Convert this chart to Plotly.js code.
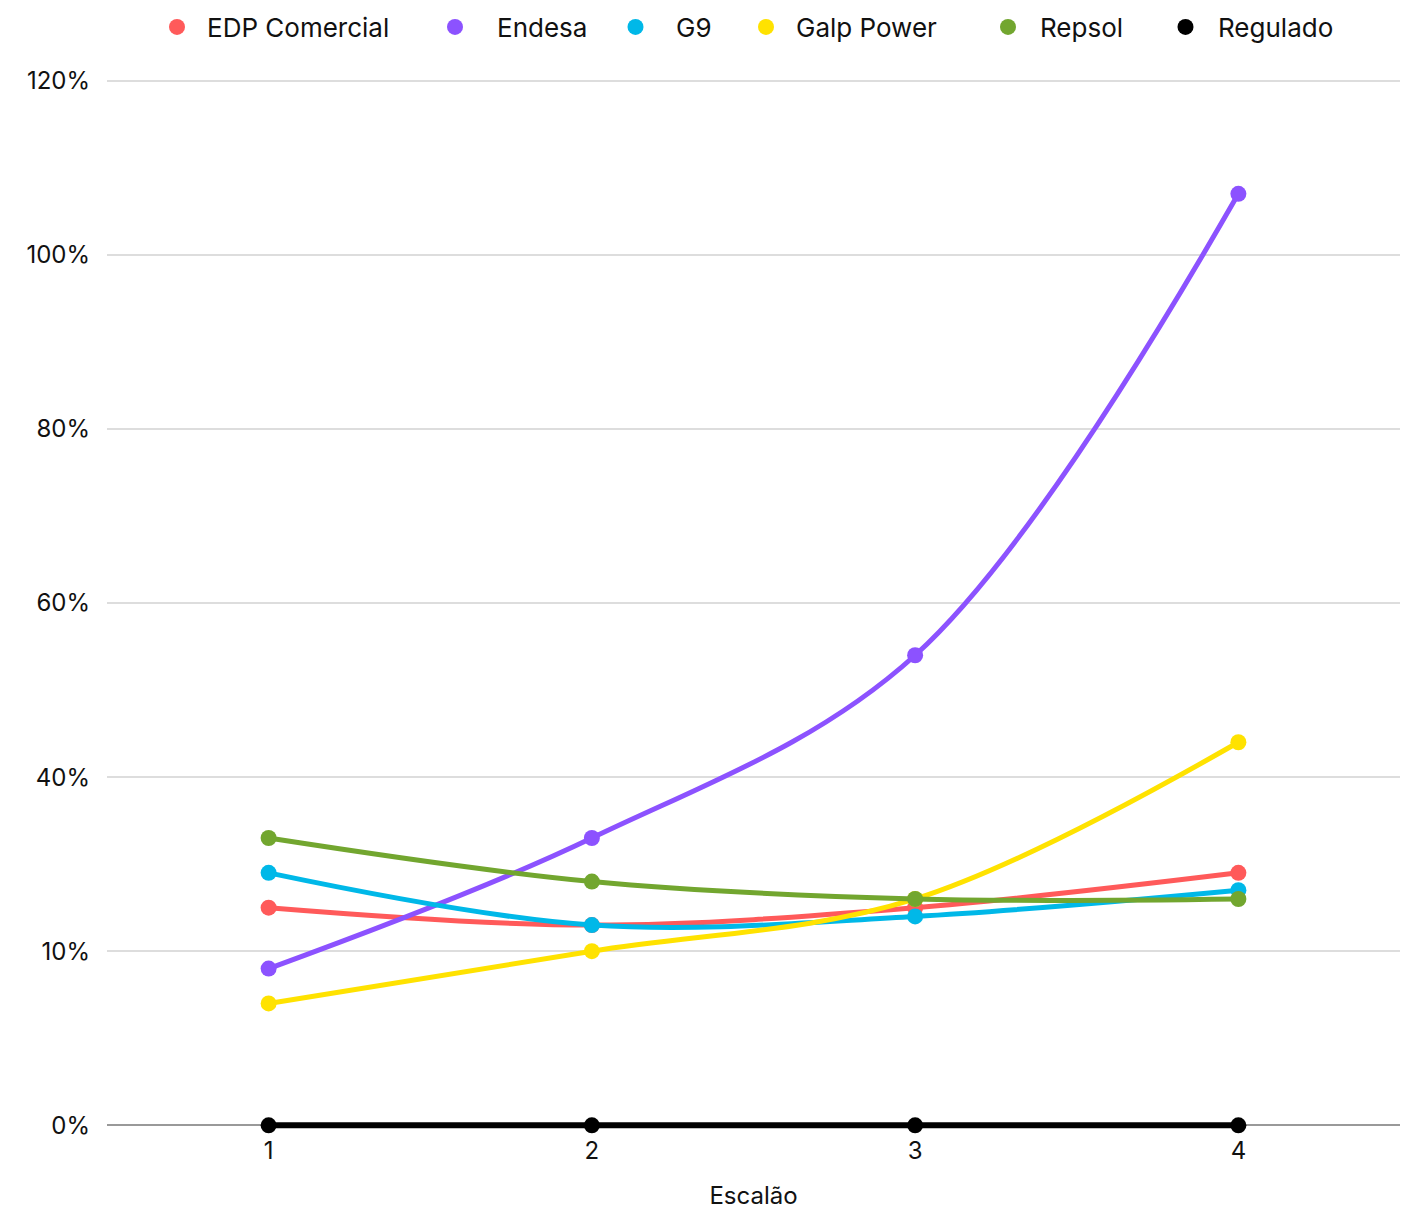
<!DOCTYPE html>
<html>
<head>
<meta charset="utf-8">
<script src="https://cdn.plot.ly/plotly-3.0.1.min.js"></script>
<style>html,body{margin:0;padding:0;background:#fff;}#chart{width:1411px;height:1210px;}</style>
</head>
<body>
<div id="chart"></div>
<script>
const escaloes = [1, 2, 3, 4];
const edpComercial = [25, 23, 25, 29];
const endesa = [18, 33, 54, 107];
const g9 = [29, 23, 24, 27];
const galpPower = [14, 20, 26, 44];
const repsol = [33, 28, 26, 26];
const regulado = [0, 0, 0, 0];

const seriesNames = ['EDP Comercial', 'Endesa', 'G9', 'Galp Power', 'Repsol', 'Regulado'];
const seriesValues = [edpComercial, endesa, g9, galpPower, repsol, regulado];
const seriesColors = ['#FF5A5A', '#8C52FF', '#00B8E8', '#FFE200', '#72A62F', '#000000'];
const legendX = [147, 413, 595, 736, 976, 1153];
const legendItemWidth = [50, 74, 71, 50, 54, 55];

const yTickVals = [0, 20, 40, 60, 80, 100, 120];
const yTickText = ['0%', '10%', '40%', '60%', '80%', '100%', '120%'];

const font = {family: 'Inter, "Noto Sans", sans-serif', size: 24, color: '#111'};

const traces = [];
const layout = {
  width: 1411, height: 1210,
  margin: {l: 107, r: 11, t: 72, b: 76, autoexpand: false},
  paper_bgcolor: '#fff', plot_bgcolor: '#fff',
  font: font,
  showlegend: true,
  xaxis: {
    range: [0.5, 4.5], tickvals: escaloes, ticktext: escaloes.map(String),
    showgrid: false, zeroline: false, showline: false, ticks: '',
    ticklabelstandoff: 0,
    tickfont: {size: 24, color: '#111'},
    title: {text: 'Escalão', font: {size: 24, color: '#111'}, standoff: 28}
  },
  yaxis: {
    range: [-1, 121], tickvals: yTickVals, ticktext: yTickText,
    showgrid: true, gridcolor: '#dddddd', gridwidth: 2,
    zeroline: true, zerolinecolor: '#999999', zerolinewidth: 2,
    showline: false, ticks: '', ticklabelstandoff: 16,
    tickfont: {size: 24, color: '#111'}
  }
};

seriesNames.forEach((name, i) => {
  traces.push({
    x: escaloes, y: seriesValues[i], name: name, type: 'scatter', mode: 'lines+markers',
    line: {color: seriesColors[i], width: name === 'Regulado' ? 6 : 5, shape: 'spline', smoothing: 1},
    marker: {color: seriesColors[i], size: 16},
    cliponaxis: false,
    showlegend: false, legendgroup: name,
    hovertemplate: '%{y}%<extra>' + name + '</extra>'
  });
});
seriesNames.forEach((name, i) => {
  const lg = i === 0 ? 'legend' : 'legend' + (i + 1);
  traces.push({
    x: [null], y: [null], name: name, type: 'scatter', mode: 'markers',
    marker: {color: seriesColors[i], size: 26}, legendgroup: name, showlegend: true,
    legend: lg
  });
  layout[lg] = {
    orientation: 'h', xref: 'container', yref: 'container',
    x: legendX[i] / 1411, xanchor: 'left', y: 1 - 27 / 1210, yanchor: 'middle',
    font: {family: font.family, size: 26, color: '#111'}, itemsizing: 'trace',
    itemwidth: legendItemWidth[i],
    bgcolor: 'rgba(0,0,0,0)', borderwidth: 0
  };
});

Plotly.newPlot('chart', traces, layout, {displayModeBar: false, responsive: false});
</script>
</body>
</html>
